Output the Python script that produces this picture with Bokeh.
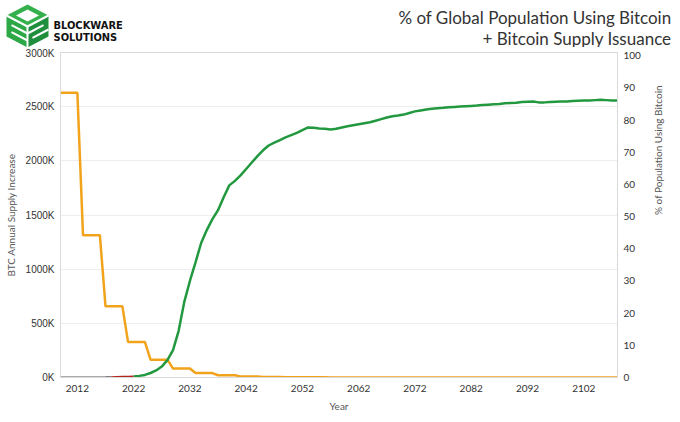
import math
from bokeh.plotting import figure
from bokeh.models import Range1d, LinearAxis, FixedTicker, PrintfTickFormatter
from bokeh.layouts import column
from bokeh.embed import file_html
from bokeh.resources import INLINE
from bokeh.core.properties import value

# ---------------- data ----------------
title_line1 = "% of Global Population Using Bitcoin"
title_line2 = "+ Bitcoin Supply Issuance"
brand_line1 = "BLOCKWARE"
brand_line2 = "SOLUTIONS"

supply_years = list(range(2009, 2109))
# BTC annual supply increase, thousands of BTC (one value per year, 2009-2108)
supply_k = [
    2628, 2628, 2628, 2628,
    1314, 1314, 1314, 1314,
    657, 657, 657, 657,
    328.5, 328.5, 328.5, 328.5,
    164.25, 164.25, 164.25, 164.25,
    82.13, 82.13, 82.13, 82.13,
    41.06, 41.06, 41.06, 41.06,
    20.53, 20.53, 20.53, 20.53,
    10.27, 10.27, 10.27, 10.27,
    5.13, 5.13, 5.13, 5.13,
    2.57, 2.57, 2.57, 2.57,
    1.28, 1.28, 1.28, 1.28,
    0.64, 0.64, 0.64, 0.64,
    0.32, 0.32, 0.32, 0.32,
    0.16, 0.16, 0.16, 0.16,
    0.08, 0.08, 0.08, 0.08,
    0.04, 0.04, 0.04, 0.04,
    0.02, 0.02, 0.02, 0.02,
    0.01, 0.01, 0.01, 0.01,
    0.005, 0.005, 0.005, 0.005,
    0.0025, 0.0025, 0.0025, 0.0025,
    0.0013, 0.0013, 0.0013, 0.0013,
    0.0006, 0.0006, 0.0006, 0.0006,
    0.0003, 0.0003, 0.0003, 0.0003,
    0.0002, 0.0002, 0.0002, 0.0002,
]

# % of population using bitcoin: history (grey), recent (red), projection (green)
hist_years = list(range(2009, 2019))
hist_pct = [0.0, 0.0, 0.0, 0.0, 0.0, 0.0, 0.01, 0.02, 0.05, 0.1]
recent_years = list(range(2018, 2023))
recent_pct = [0.1, 0.15, 0.2, 0.25, 0.3]
proj_years = list(range(2022, 2109))
proj_pct = [
    0.3, 0.5, 0.8, 1.4, 2.2, 3.4, 5.4, 8.5, 14.5, 23.5,
    30.0, 35.8, 41.8, 45.8, 49.2, 52.0, 56.0, 59.7, 61.1, 62.8,
    64.8, 66.8, 68.8, 70.6, 72.1, 73.0, 73.8, 74.6, 75.3, 76.0,
    76.9, 77.7, 77.6, 77.4, 77.3, 77.1, 77.3, 77.7, 78.1, 78.4,
    78.7, 79.0, 79.3, 79.8, 80.3, 80.8, 81.2, 81.4, 81.7, 82.2,
    82.7, 83.0, 83.3, 83.5, 83.7, 83.8, 84.0, 84.1, 84.2, 84.3,
    84.4, 84.5, 84.7, 84.8, 84.9, 85.0, 85.2, 85.3, 85.4, 85.6,
    85.7, 85.8, 85.5, 85.5, 85.6, 85.7, 85.8, 85.8, 85.9, 86.0,
    86.1, 86.1, 86.2, 86.3, 86.2, 86.1, 86.1,
]

x_ticks = [2012, 2022, 2032, 2042, 2052, 2062, 2072, 2082, 2092, 2102]
left_ticks = [0, 500, 1000, 1500, 2000, 2500, 3000]
right_ticks = [0, 10, 20, 30, 40, 50, 60, 70, 80, 90, 100]

# logo geometry (header pixel space, y downward)
logo_top_x = [27, 48, 27, 6]
logo_top_y = [4, 15, 26, 15]
logo_hole_x = [27, 38.5, 27, 15.5]
logo_hole_y = [9, 15, 21, 15]
logo_left_x = [6, 27, 27, 6]
logo_left_y = [15, 26, 47, 36]
logo_right_x = [27, 48, 48, 27]
logo_right_y = [26, 15, 36, 47]
logo_cut_xs = [[27, 6], [27, 48], [27, 27], [11, 27], [11, 27], [27, 43], [32, 48]]
logo_cut_ys = [[26, 15], [26, 15], [26, 47], [24.6, 33], [31.6, 40], [33, 24.6], [37.4, 29]]

ORANGE = "#F2A31C"
GREEN = "#22983F"
GREY_TXT = "#333333"
AX_TXT = "#555555"
LINE_GREY = "#D9D9D9"

# ---------------- header ----------------
W = 672
HEADER_H = 47
hdr = figure(width=W, height=HEADER_H, x_range=Range1d(0, W), y_range=Range1d(HEADER_H, 0),
             x_axis_type=None, y_axis_type=None, output_backend="svg",
             toolbar_location=None, min_border=0, outline_line_color=None)
hdr.frame_align = False
hdr.patch(logo_top_x, logo_top_y, fill_color="#34B04C", line_color=None)
hdr.patch(logo_hole_x, logo_hole_y, fill_color="white", line_color=None)
hdr.patch(logo_left_x, logo_left_y, fill_color="#2DA847", line_color=None)
hdr.patch(logo_right_x, logo_right_y, fill_color="#1F8E3D", line_color=None)
hdr.multi_line(logo_cut_xs, logo_cut_ys, line_color="white", line_width=2)

brand_kw = dict(text_font=value("DejaVu Sans Condensed"), text_font_style="bold",
                text_font_size="11px", text_color="#111111",
                text_baseline="alphabetic", text_align="left")
hdr.text(x=[53], y=[24.5], text=[brand_line1], **brand_kw)
hdr.text(x=[53], y=[36.5], text=[brand_line2], **brand_kw)
title_kw = dict(text_font=value("Lato"), text_font_size="17px", text_color=GREY_TXT,
                text_baseline="alphabetic", text_align="right")
hdr.text(x=[671], y=[16.7], text=[title_line1], **title_kw)
hdr.text(x=[671], y=[37.5], text=[title_line2], **title_kw)

# ---------------- chart ----------------
CH_H = 367
p = figure(width=W, height=CH_H, x_range=Range1d(2009, 2108), y_range=Range1d(0, 3000),
           output_backend="svg", toolbar_location=None,
           min_border_top=5, min_border_bottom=36, min_border_left=60, min_border_right=52,
           outline_line_color=LINE_GREY)
p.frame_align = False
p.extra_y_ranges = {"pct": Range1d(0, 101)}


def style_axis(ax, label_font):
    ax.major_label_text_font = label_font
    ax.major_label_text_font_size = "10px"
    ax.major_label_text_color = GREY_TXT
    ax.axis_label_text_font = "Lato"
    ax.axis_label_text_font_style = "normal"
    ax.axis_label_text_font_size = "10px"
    ax.axis_label_text_color = AX_TXT
    ax.axis_line_color = LINE_GREY
    ax.major_tick_line_color = None
    ax.minor_tick_line_color = None
    ax.major_tick_out = 0
    ax.major_tick_in = 0
    ax.minor_tick_out = 0
    ax.minor_tick_in = 0


xax = p.xaxis[0]
style_axis(xax, "Lato")
xax.ticker = FixedTicker(ticks=x_ticks)
xax.axis_label = "Year"
xax.axis_label_standoff = 5
xax.major_label_standoff = 7

yax = p.yaxis[0]
style_axis(yax, "Liberation Sans")
yax.ticker = FixedTicker(ticks=left_ticks)
yax.formatter = PrintfTickFormatter(format="%dK")
yax.axis_label = "BTC Annual Supply Increase"
yax.axis_label_standoff = 6
yax.major_label_standoff = 6

rax = LinearAxis(y_range_name="pct", ticker=FixedTicker(ticks=right_ticks))
style_axis(rax, "Lato")
rax.axis_label = "% of Population Using Bitcoin"
rax.axis_label_standoff = 14
if "axis_label_orientation" in rax.properties():
    rax.axis_label_orientation = math.pi / 2
rax.major_label_standoff = 6
p.add_layout(rax, "right")

p.xgrid.visible = False
p.ygrid.ticker = FixedTicker(ticks=left_ticks)
p.ygrid.grid_line_color = "#EEEEEE"

p.line(supply_years, supply_k, line_color=ORANGE, line_width=2.5)
p.line(hist_years, hist_pct, y_range_name="pct", line_color="#5A5A5A", line_width=2)
p.line(recent_years, recent_pct, y_range_name="pct", line_color="#B3261E", line_width=2)
p.line(proj_years, proj_pct, y_range_name="pct", line_color=GREEN, line_width=2.5)

layout = column(hdr, p, spacing=0)
open("out.html", "w").write(file_html(layout, INLINE))
